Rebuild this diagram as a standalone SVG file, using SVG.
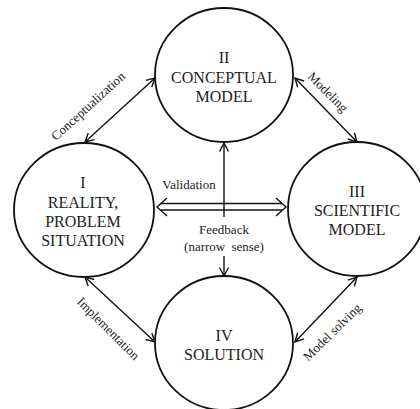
<svg xmlns="http://www.w3.org/2000/svg" width="420" height="409" viewBox="0 0 420 409">
<defs>
<style>
text{font-family:'Liberation Serif','Times New Roman',Tinos,serif;fill:#222;text-anchor:middle}
.node{fill:none;stroke:#111;stroke-width:1.8}
.lbl{font-size:16px}
.sm{font-size:13px}
.con{fill:none;stroke:#111;stroke-width:1.4}
</style>
<marker id="arr" markerUnits="userSpaceOnUse" markerWidth="14" markerHeight="14" refX="10" refY="6" orient="auto-start-reverse">
<path d="M1.5,1.5 L10,6 L1.5,10.5" fill="none" stroke="#111" stroke-width="1.4"/>
</marker>
</defs>
<rect width="420" height="409" fill="#fff"/>
<g id="node-II">
<ellipse class="node" cx="224" cy="75" rx="69" ry="67"/>
<text class="lbl" x="224" y="63" font-family="Liberation Serif">II</text>
<text class="lbl" x="224" y="83" font-family="Liberation Serif">CONCEPTUAL</text>
<text class="lbl" x="224" y="102" font-family="Liberation Serif">MODEL</text>
</g>
<g id="node-I">
<ellipse class="node" cx="84" cy="210" rx="70" ry="67"/>
<text class="lbl" x="83" y="188">I</text>
<text class="lbl" x="83" y="208">REALITY,</text>
<text class="lbl" x="83" y="227">PROBLEM</text>
<text class="lbl" x="83" y="246">SITUATION</text>
</g>
<g id="node-III">
<ellipse class="node" cx="357" cy="209" rx="69" ry="67"/>
<text class="lbl" x="357" y="197">III</text>
<text class="lbl" x="357" y="216">SCIENTIFIC</text>
<text class="lbl" x="357" y="235">MODEL</text>
</g>
<g id="node-IV">
<ellipse class="node" cx="224" cy="343" rx="69" ry="67"/>
<text class="lbl" x="224" y="341">IV</text>
<text class="lbl" x="224" y="360">SOLUTION</text>
</g>
<g id="connectors">
<line class="con" x1="85" y1="142" x2="155" y2="78" marker-start="url(#arr)" marker-end="url(#arr)"/>
<line class="con" x1="295" y1="78" x2="357" y2="142" marker-start="url(#arr)" marker-end="url(#arr)"/>
<line class="con" x1="85" y1="277" x2="155" y2="342" marker-start="url(#arr)" marker-end="url(#arr)"/>
<line class="con" x1="357" y1="277" x2="295" y2="342" marker-start="url(#arr)" marker-end="url(#arr)"/>
<line class="con" x1="161" y1="203.5" x2="282" y2="203.5"/>
<line class="con" x1="161" y1="210" x2="282" y2="210"/>
<path class="con" d="M167,198 L157,207 L167,216"/>
<path class="con" d="M276,198 L286,207 L276,216"/>
<line class="con" x1="224" y1="217" x2="224" y2="143" marker-end="url(#arr)"/>
<line class="con" x1="224" y1="256" x2="224" y2="276" marker-end="url(#arr)"/>
<text class="sm" transform="translate(88,106) rotate(-42.4)" y="4.5">Conceptualization</text>
<text class="sm" transform="translate(328,92) rotate(45)" y="4.5">Modeling</text>
<text class="sm" transform="translate(108.5,328.5) rotate(45)" y="4.5">Implementation</text>
<text class="sm" transform="translate(332,332) rotate(-44.5)" y="4.5">Model solving</text>
<text class="sm" x="189" y="189">Validation</text>
<text class="sm" x="224" y="234">Feedback</text>
<text class="sm" x="224" y="251" word-spacing="3">(narrow sense)</text>
</g>
</svg>
